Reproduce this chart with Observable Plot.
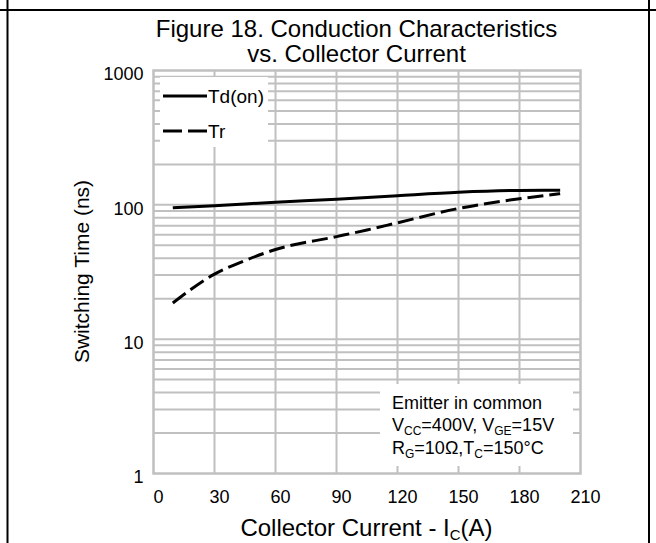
<!DOCTYPE html>
<html><head><meta charset="utf-8">
<script src="https://cdn.jsdelivr.net/npm/d3@7"></script>
<script src="https://cdn.jsdelivr.net/npm/@observablehq/plot@0.6"></script>
<style>body{margin:0;background:#fff;} svg{display:block}</style>
</head><body><div id="chart"></div>
<script>
// ---- data ----
const tdCurrent = [9.5, 30, 60, 90, 120, 150, 180, 200];
const tdTime    = [95, 98.5, 104.5, 110, 117, 124, 128, 128.5];
const trCurrent = [9.5, 30, 45, 60, 90, 105, 120, 150, 180, 200];
const trTime    = [18.6, 30.5, 38.5, 46.5, 58, 65, 73.5, 94, 111, 121];
const seriesNames = ["Td(on)", "Tr"];
const xTicks = [0, 30, 60, 90, 120, 150, 180, 210];
const yTicks = [1, 10, 100, 1000];
const yGrid = [2,3,4,5,6,7,8,9,10,20,30,40,50,60,70,80,90,100,200,300,400,500,600,700,800,900];
const xGrid = [30, 60, 90, 120, 150, 180];
const titleLines = ["Figure 18. Conduction Characteristics", "vs. Collector Current"];
const yLabel = "Switching Time (ns)";
const xLabelParts = [["Collector Current - I", false], ["C", true], ["(A)", false]];
const noteLines = [
  [["Emitter in common", false]],
  [["V", false], ["CC", true], ["=400V, V", false], ["GE", true], ["=15V", false]],
  [["R", false], ["G", true], ["=10Ω,T", false], ["C", true], ["=150°C", false]]
];

const tdRows = tdCurrent.map((x, i) => ({x, y: tdTime[i]}));
const trRows = trCurrent.map((x, i) => ({x, y: trTime[i]}));

const FONT = "'Liberation Sans', Arial, sans-serif";
const GRID = "#c0c0c0";
const DASH = "16,6";

function addRich(sel, parts, subSize) {
  parts.forEach(([t, sub], i) => {
    const ts = sel.append("tspan").text(t);
    if (sub) ts.attr("font-size", subSize).attr("dy", 4);
    else if (i > 0 && parts[i-1][1]) ts.attr("dy", -4);
  });
}

const boxes = (index, scales, values, dim) => {
  const g = d3.create("svg:g");
  const L = dim.marginLeft, R = dim.width - dim.marginRight, T = dim.marginTop, B = dim.height - dim.marginBottom;
  g.append("rect").attr("x", L + 7).attr("y", T + 7).attr("width", 108).attr("height", 70).attr("fill", "#fff");
  g.append("rect").attr("x", R - 200).attr("y", B - 89).attr("width", 193).attr("height", 82).attr("fill", "#fff");
  return g.node();
};

const decor = (index, scales, values, dim) => {
  const g = d3.create("svg:g").attr("font-family", FONT).attr("fill", "#000");
  const W = dim.width, H = dim.height;
  const L = dim.marginLeft, R = W - dim.marginRight, T = dim.marginTop, B = H - dim.marginBottom;
  const cx = (L + R) / 2;
  // outer table borders
  g.append("line").attr("x1", 0).attr("x2", W).attr("y1", 10).attr("y2", 10).attr("stroke", "#000").attr("stroke-width", 2);
  g.append("line").attr("x1", 7.5).attr("x2", 7.5).attr("y1", 0).attr("y2", H).attr("stroke", "#000").attr("stroke-width", 2);
  g.append("line").attr("x1", W - 7).attr("x2", W - 7).attr("y1", 0).attr("y2", H).attr("stroke", "#000").attr("stroke-width", 2);
  // title
  titleLines.forEach((t, i) => {
    g.append("text").attr("x", cx - 10).attr("y", 37 + i * 25).attr("text-anchor", "middle").attr("font-size", 24).text(t);
  });
  // axis labels
  g.append("text").attr("transform", `translate(89,${(T + B) / 2}) rotate(-90)`).attr("text-anchor", "middle").attr("font-size", 21).text(yLabel);
  const xl = g.append("text").attr("x", cx).attr("y", 536).attr("text-anchor", "middle").attr("font-size", 24);
  addRich(xl, xLabelParts, 15);
  // legend
  const legY = [T + 26, T + 61];
  seriesNames.forEach((name, i) => {
    g.append("line").attr("x1", L + 10).attr("x2", L + 54).attr("y1", legY[i]).attr("y2", legY[i])
      .attr("stroke", "#000").attr("stroke-width", 3).attr("stroke-dasharray", i === 1 ? "19,6" : null);
    g.append("text").attr("x", L + 55).attr("y", legY[i]).attr("dy", "0.35em").attr("text-anchor", "start").attr("font-size", 19).text(name);
  });
  // conditions note
  const noteY = [B - 64, B - 42, B - 19];
  noteLines.forEach((parts, i) => {
    const t = g.append("text").attr("x", R - 188).attr("y", noteY[i]).attr("text-anchor", "start").attr("font-size", 18);
    addRich(t, parts, 12);
  });
  return g.node();
};

const chart = Plot.plot({
  width: 656,
  height: 543,
  marginLeft: 153,
  marginRight: 76,
  marginTop: 70,
  marginBottom: 70,
  style: {fontFamily: FONT, fontSize: "18px", color: "#000", background: "#fff"},
  x: {domain: [0, 210]},
  y: {type: "log", domain: [1, 1000]},
  marks: [
    Plot.ruleY(yGrid, {stroke: GRID, strokeWidth: 2}),
    Plot.ruleX(xGrid, {stroke: GRID, strokeWidth: 2}),
    Plot.frame({stroke: GRID, strokeWidth: 2.5}),
    boxes,
    Plot.axisX({ticks: xTicks, tickSize: 0, tickPadding: 17, dx: 5, label: null, tickFormat: d => String(d), fontSize: 18}),
    Plot.axisY({ticks: yTicks, tickSize: 0, tickPadding: 10, dy: 4, label: null, tickFormat: d => String(d), fontSize: 18}),
    Plot.line(tdRows, {x: "x", y: "y", stroke: "#000", strokeWidth: 3, curve: "monotone-x", strokeLinecap: "butt"}),
    Plot.line(trRows, {x: "x", y: "y", stroke: "#000", strokeWidth: 3, curve: "monotone-x", strokeLinecap: "butt", strokeDasharray: DASH}),
    decor
  ]
});
document.getElementById("chart").appendChild(chart);
</script>
</body></html>
